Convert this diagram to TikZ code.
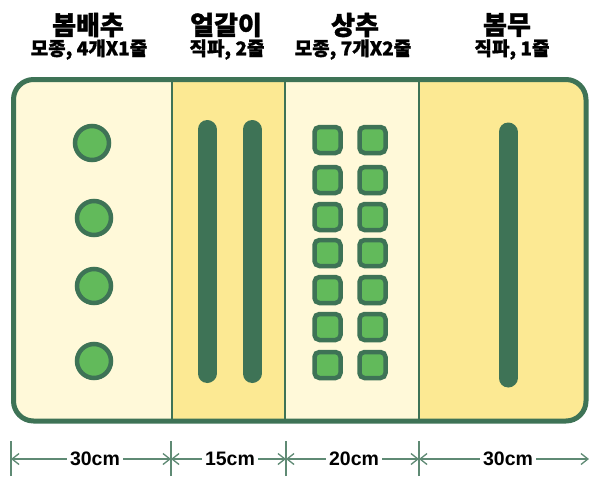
\documentclass[tikz,border=0pt]{standalone}
\usepackage{fontspec}
\setmainfont{Liberation Sans}
\newfontfamily\kr{Noto Sans CJK KR}[BoldFeatures={FakeBold=1.2}]
\usetikzlibrary{arrows.meta}
\definecolor{dkgreen}{HTML}{3E7356}
\definecolor{ltgreen}{HTML}{62BA5B}
\definecolor{creambg}{HTML}{FFF9D9}
\definecolor{yellowbg}{HTML}{FCE993}
\definecolor{dimcol}{HTML}{5F8A74}
\tikzset{
  title/.style={font=\kr\bfseries\fontsize{26}{28}\selectfont, inner sep=0pt},
  subtitle/.style={font=\kr\bfseries\fontsize{19}{21}\selectfont, inner sep=0pt},
  divider/.style={draw=dkgreen, line width=2.5pt},
  frame/.style={draw=dkgreen, line width=5pt, rounded corners=20pt},
  seedling/.style={circle, draw=dkgreen, fill=ltgreen, line width=4.5pt, minimum size=34pt, inner sep=0pt},
  sprout/.style={rectangle, rounded corners=5pt, draw=dkgreen, fill=ltgreen, line width=4.5pt, minimum size=26pt, inner sep=0pt},
  rowline/.style={draw=dkgreen, line width=19pt, line cap=round},
  tick/.style={draw=dimcol, line width=1.3pt},
  dimline/.style={draw=dimcol, line width=1.3pt, {Straight Barb[length=7pt,width=11pt]}-{Straight Barb[length=7pt,width=11pt]}},
  dimlabel/.style={font=\bfseries\fontsize{19.5}{21}\selectfont, fill=white, inner xsep=3pt, inner ysep=1pt}
}
\begin{document}
\begin{tikzpicture}[x=1pt,y=-1pt]
\useasboundingbox (0,0) rectangle (589,477);
% backgrounds
\begin{scope}
\clip[rounded corners=20pt] (13.5,79.5) rectangle (586,421);
\fill[creambg] (13.5,79.5) rectangle (172,421);
\fill[yellowbg] (172,79.5) rectangle (285,421);
\fill[creambg] (285,79.5) rectangle (419,421);
\fill[yellowbg] (419,79.5) rectangle (586,421);
\end{scope}
\draw[divider] (172,79.5) -- (172,421);
\draw[divider] (285,79.5) -- (285,421);
\draw[divider] (419,79.5) -- (419,421);
\draw[frame] (13.5,79.5) rectangle (586,421);
% titles
\node[title] (t1) at (88,25) {봄배추};
\node[subtitle] (s1) at (89,49.5) {모종, 4개X1줄};
\node[title] (t2) at (226,25) {얼갈이};
\node[subtitle] (s2) at (227,49.5) {직파, 2줄};
\node[title] (t3) at (355,25) {상추};
\node[subtitle] (s3) at (353,49.5) {모종, 7개X2줄};
\node[title] (t4) at (507,25) {봄무};
\node[subtitle] (s4) at (512,49.5) {직파, 1줄};
% section 1: seedlings
\node[seedling] (c1) at (92,143) {};
\node[seedling] (c2) at (94,218) {};
\node[seedling] (c3) at (94,286) {};
\node[seedling] (c4) at (94,361) {};
% section 2: two sown rows
\draw[rowline] (207,129.5) -- (207,373.5);
\draw[rowline] (252,129.5) -- (252,373.5);
% section 3: lettuce 7x2
\foreach \i/\y in {1/140,2/180,3/217,4/253,5/290,6/327,7/365}{
  \node[sprout] (a\i) at (327.5,\y) {};
  \node[sprout] (b\i) at (372.5,\y) {};
}
% section 4: one row
\draw[rowline] (508,132) -- (508,378);
% dimension line
\coordinate (d0) at (11,459);
\coordinate (d1) at (171,459);
\coordinate (d2) at (286,459);
\coordinate (d3) at (419,459);
\coordinate (d4) at (589,459);
\foreach \c in {d0,d1,d2,d3}{
  \draw[tick] ([yshift=-17pt]\c) -- ([yshift=18pt]\c);
}
\draw[dimline] (d0) -- (d1);
\draw[dimline] (d1) -- (d2);
\draw[dimline] (d2) -- (d3);
\draw[dimline] (d3) -- (d4);
\node[dimlabel] (l1) at (95,459) {30cm};
\node[dimlabel] (l2) at (230,459) {15cm};
\node[dimlabel] (l3) at (354,459) {20cm};
\node[dimlabel] (l4) at (508,459) {30cm};
\end{tikzpicture}
\end{document}
